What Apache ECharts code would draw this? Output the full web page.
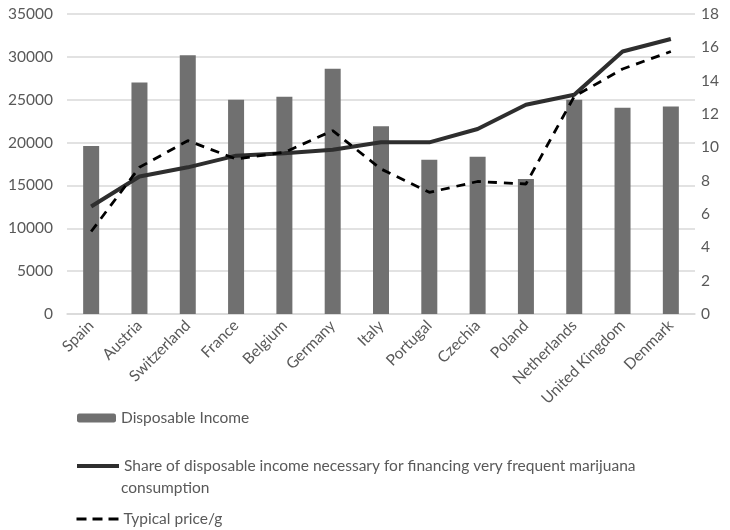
<!DOCTYPE html>
<html>
<head>
<meta charset="utf-8">
<script src="https://cdn.jsdelivr.net/npm/echarts@6/dist/echarts.min.js"></script>
<style>html,body{margin:0;padding:0;background:#fff}#c{width:730px;height:530px}</style>
</head>
<body>
<div id="c"></div>
<script>
var categories = ['Spain','Austria','Switzerland','France','Belgium','Germany','Italy','Portugal','Czechia','Poland','Netherlands','United Kingdom','Denmark'];
var disposableIncome = [19600, 27000, 30200, 25000, 25350, 28600, 21900, 18000, 18350, 15750, 25000, 24050, 24200];
var shareOfIncome = [6.45, 8.25, 8.8, 9.5, 9.65, 9.85, 10.3, 10.3, 11.1, 12.55, 13.15, 15.75, 16.5];
var typicalPrice = [4.95, 8.8, 10.4, 9.3, 9.7, 11.0, 8.7, 7.3, 7.95, 7.8, 13.05, 14.7, 15.75];
var leftTicks = {min: 0, max: 35000, interval: 5000};
var rightTicks = {min: 0, max: 18, interval: 2};

var FONT = 'Lato';
var GREY = '#595959';
var chart = echarts.init(document.getElementById('c'));
chart.setOption({
  animation: false,
  textStyle: {fontFamily: FONT},
  grid: {left: 67, right: 35, top: 14, bottom: 216, containLabel: false},
  xAxis: {
    type: 'category', data: categories,
    axisLine: {show: true, lineStyle: {color: '#d9d9d9', width: 1.5}},
    axisTick: {show: false},
    axisLabel: {rotate: 45, color: GREY, fontSize: 15.5, fontFamily: FONT, margin: 9, interval: 0}
  },
  yAxis: [{
    type: 'value', min: leftTicks.min, max: leftTicks.max, interval: leftTicks.interval,
    axisLine: {show: false}, axisTick: {show: false},
    axisLabel: {color: GREY, fontSize: 15.5, fontFamily: FONT, margin: 14, formatter: function(v){ return String(v); }},
    splitLine: {lineStyle: {color: '#d9d9d9', width: 1.5}}
  }, {
    type: 'value', min: rightTicks.min, max: rightTicks.max, interval: rightTicks.interval,
    axisLine: {show: false}, axisTick: {show: false},
    axisLabel: {color: GREY, fontSize: 15.5, fontFamily: FONT, margin: 6},
    splitLine: {show: false}
  }],
  legend: [{
    data: ['Disposable Income'], left: 77, top: 410, padding: 0, itemWidth: 39, itemHeight: 9,
    textStyle: {color: GREY, fontSize: 15.5, fontFamily: FONT}
  }, {
    data: ['Share of disposable income necessary for financing very frequent marijuana consumption'],
    left: 75, top: 458, padding: 0, itemWidth: 42, itemHeight: 14,
    itemStyle: {opacity: 0},
    lineStyle: {width: 4, color: '#2e2e2e'},
    formatter: function(){ return 'Share of disposable income necessary for financing very frequent marijuana'; },
    textStyle: {color: GREY, fontSize: 15.5, fontFamily: FONT}
  }, {
    data: ['Typical price/g'], left: 75, top: 511, padding: 0, itemWidth: 42, itemHeight: 14,
    itemStyle: {opacity: 0},
    lineStyle: {width: 3, color: '#000', type: [10, 6]},
    textStyle: {color: GREY, fontSize: 15.5, fontFamily: FONT}
  }],
  graphic: [{
    type: 'text', left: 121, top: 480,
    style: {text: 'consumption', fill: GREY, font: '15.5px Lato'}
  }],
  series: [{
    name: 'Disposable Income', type: 'bar', data: disposableIncome, yAxisIndex: 0,
    barWidth: 16, itemStyle: {color: '#707070'}
  }, {
    name: 'Share of disposable income necessary for financing very frequent marijuana consumption',
    type: 'line', data: shareOfIncome, yAxisIndex: 1, symbol: 'none', showSymbol: false,
    lineStyle: {color: '#2e2e2e', width: 4}, itemStyle: {color: '#2e2e2e'}
  }, {
    name: 'Typical price/g', type: 'line', data: typicalPrice, yAxisIndex: 1, symbol: 'none', showSymbol: false,
    lineStyle: {color: '#000', width: 2.8, type: [9, 7]}, itemStyle: {color: '#000'}
  }]
});
</script>
</body>
</html>
